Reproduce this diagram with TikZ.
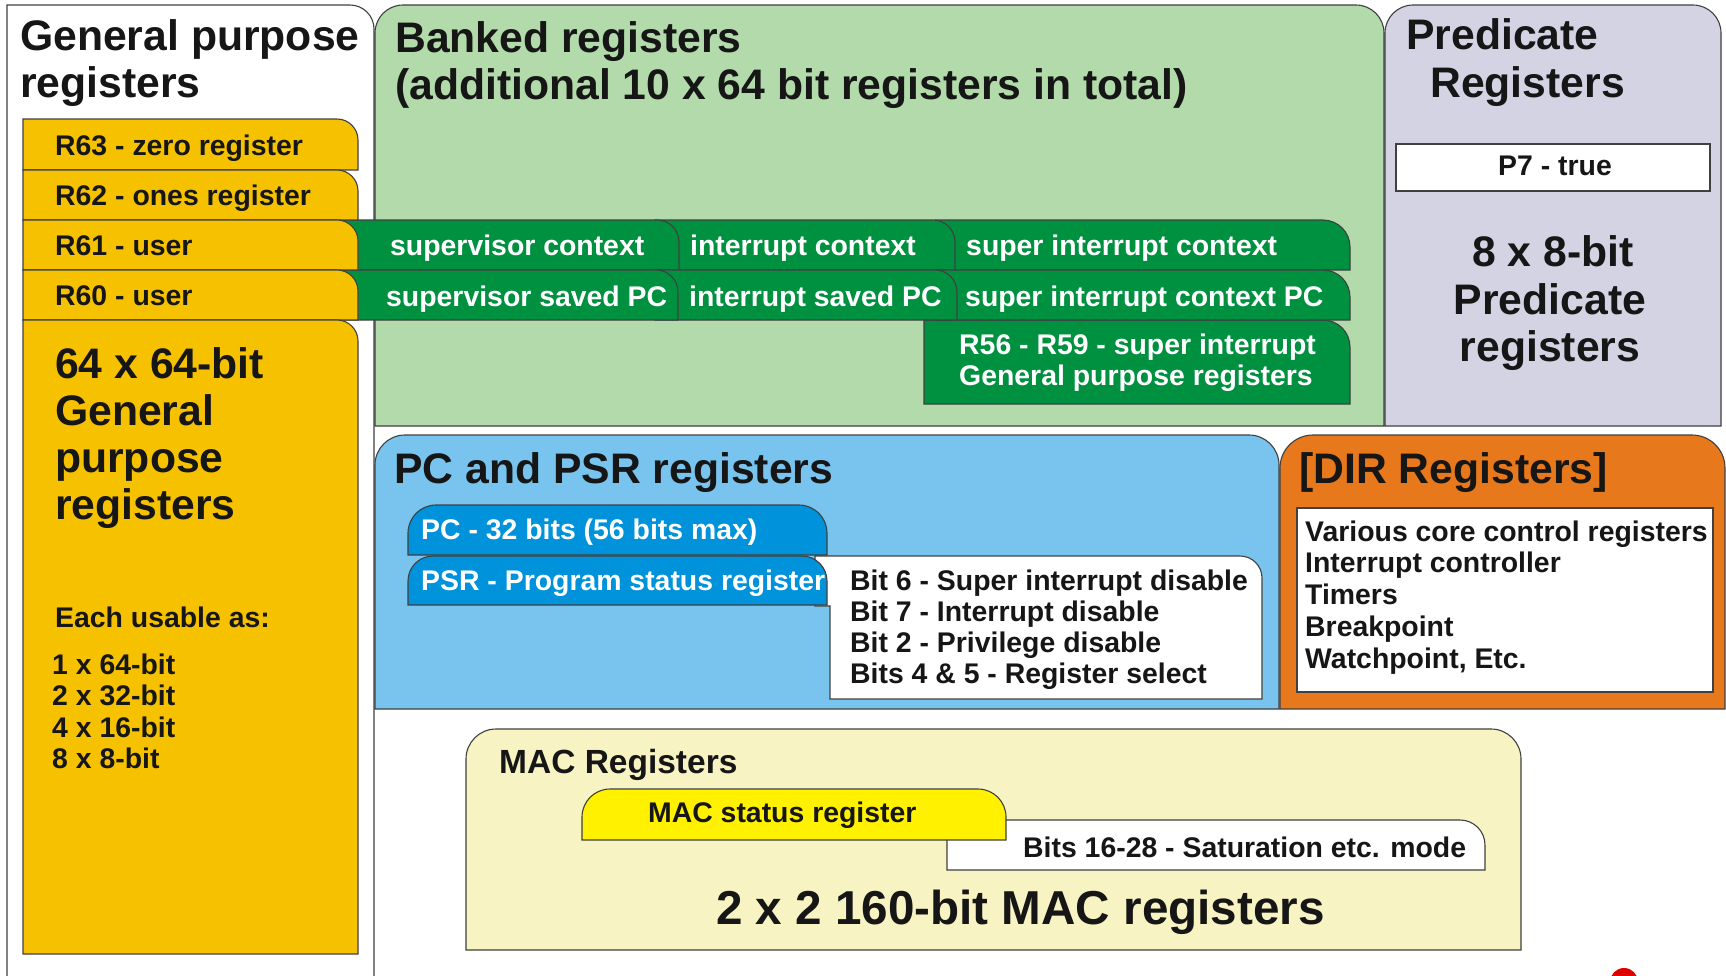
\documentclass[tikz,border=0pt]{standalone}
\usepackage{fontspec}
\setmainfont{Liberation Sans}

\definecolor{gpryellow}{RGB}{246,194,0}
\definecolor{bankgreen}{RGB}{178,218,170}
\definecolor{ctxgreen}{RGB}{0,145,64}
\definecolor{predgrey}{RGB}{211,211,228}
\definecolor{pcblue}{RGB}{120,196,238}
\definecolor{tabblue}{RGB}{0,146,218}
\definecolor{dirorange}{RGB}{231,120,27}
\definecolor{macpale}{RGB}{247,243,195}
\definecolor{macyellow}{RGB}{255,241,0}
\definecolor{edge}{RGB}{64,64,64}
\definecolor{ink}{RGB}{22,22,22}
\definecolor{dotred}{RGB}{225,0,0}

% box with its top-right corner rounded: style, x1, y1, x2, y2, radius
\newcommand\regtab[6]{%
  \path[#1] (#2,#5) -- (#2,#3) -- ({#4-#6},#3)
    .. controls ({#4-0.448*#6},#3) and (#4,{#3+0.448*#6}) .. (#4,{#3+#6})
    -- (#4,#5) -- cycle;}
% box with both top corners rounded: style, x1, y1, x2, y2, radius
\newcommand\regcap[6]{%
  \path[#1] (#2,#5) -- (#2,{#3+#6})
    .. controls (#2,{#3+0.448*#6}) and ({#2+0.448*#6},#3) .. ({#2+#6},#3)
    -- ({#4-#6},#3)
    .. controls ({#4-0.448*#6},#3) and (#4,{#3+0.448*#6}) .. (#4,{#3+#6})
    -- (#4,#5) -- cycle;}

\begin{document}
\begin{tikzpicture}[x=1pt,y=-1pt,
  box/.style={draw=edge,line width=1.1pt},
  txt/.style={inner sep=0pt,anchor=base west,text=ink,font=\bfseries\fontsize{28.4}{32}\selectfont},
  big/.style={txt,font=\bfseries\fontsize{42.7}{47}\selectfont},
  wtxt/.style={txt,text=white}]
\useasboundingbox (0,0) rectangle (1726,975);
\clip (0,0) rectangle (1726,975);
\fill[white] (0,0) rectangle (1726,975);

% ---- outer panels ----
\regtab{box,fill=white}{7}{5}{374}{1000}{24}
\regcap{box,fill=bankgreen}{375}{5}{1384}{426}{28}
\regcap{box,fill=predgrey}{1385}{5}{1721}{426}{28}
\regcap{box,fill=pcblue}{375}{435}{1279}{709}{30}
\regcap{box,fill=dirorange}{1280}{435}{1725}{709}{33}
\regcap{box,fill=macpale}{466}{729}{1521}{950}{30}

% ---- banked context tabs ----
\regtab{box,fill=ctxgreen}{924}{320}{1350}{404}{27}
\regtab{box,fill=ctxgreen}{935}{220}{1350}{270}{27}
\regtab{box,fill=ctxgreen}{655}{220}{955}{270}{22}
\regtab{box,fill=ctxgreen}{340}{220}{679}{270}{22}
\regtab{box,fill=ctxgreen}{935}{270}{1350}{320}{27}
\regtab{box,fill=ctxgreen}{655}{270}{957}{320}{22}
\regtab{box,fill=ctxgreen}{340}{270}{678}{320}{22}

% ---- general purpose register rows ----
\regtab{box,fill=gpryellow}{23}{119}{358}{170}{21}
\regtab{box,fill=gpryellow}{23}{170}{358}{220}{21}
\regtab{box,fill=gpryellow}{23}{220}{358}{270}{21}
\regtab{box,fill=gpryellow}{23}{270}{358}{320}{21}
\regtab{box,fill=gpryellow}{23}{320}{358}{954}{21}

% ---- predicate ----
\draw[box,fill=white] (1396,144) rectangle (1710,191);

% ---- PC and PSR ----
\regcap{box,fill=tabblue}{408}{505}{827}{555}{28}
\path[box,fill=white] (815,556) -- (1240,556)
  .. controls ({1262-0.448*22},556) and (1262,{556+0.448*22}) .. (1262,578)
  -- (1262,699) -- (830,699) -- (830,606) -- (815,606) -- cycle;
\regcap{box,fill=tabblue}{408}{556}{827}{605}{25}

% ---- DIR ----
\draw[box,fill=white] (1297,508) rectangle (1713,692);

% ---- MAC ----
\regtab{box,fill=white}{947}{820}{1485}{870}{25}
\regcap{box,fill=macyellow}{582}{789}{1006}{840}{28}

% ---- texts: general purpose ----
\node[big] (gprA) at (20,50) {General purpose};
\node[big] (gprB) at (20,97) {registers};
\node[txt] (r63) at (55,155) {R63 - zero register};
\node[txt] (r62) at (55,205) {R62 - ones register};
\node[txt] (r61) at (55,255) {R61 - user};
\node[txt] (r60) at (55,305) {R60 - user};
\foreach \t [count=\i] in {64 x 64-bit, General, purpose, registers}
  \node[big] (gpc\i) at (55,{378+47.3*(\i-1)}) {\t};
\node[txt] (usable) at (55,627) {Each usable as:};
\foreach \t [count=\i] in {1 x 64-bit, 2 x 32-bit, 4 x 16-bit, 8 x 8-bit}
  \node[txt] (use\i) at (52,{674+31.5*(\i-1)}) {\t};

% ---- texts: banked ----
\node[big] (bankA) at (395,52) {Banked registers};
\node[big] (bankB) at (395,99) {(additional 10 x 64 bit registers in total)};
\node[wtxt] (sup) at (390,255) {supervisor context};
\node[wtxt] (irq) at (690,255) {interrupt context};
\node[wtxt] (sirq) at (966,255) {super interrupt context};
\node[wtxt] (suppc) at (386,306) {supervisor saved PC};
\node[wtxt] (irqpc) at (689,306) {interrupt saved PC};
\node[wtxt] (sirqpc) at (965,306) {super interrupt context PC};
\node[wtxt] (rsA) at (959,354) {R56 - R59 - super interrupt};
\node[wtxt] (rsB) at (959,385) {General purpose registers};

% ---- texts: predicate ----
\node[big] (predA) at (1406,49) {Predicate};
\node[big] (predB) at (1430,97) {Registers};
\node[txt,anchor=base] (p7) at (1555,175) {P7 - true};
\node[big,anchor=base] (predC) at (1553,266) {8 x 8-bit};
\node[big,anchor=base] (predD) at (1550,314) {Predicate};
\node[big,anchor=base] (predE) at (1550,361) {registers};

% ---- texts: PC and PSR ----
\node[big] (pcpsr) at (394,483) {PC and PSR registers};
\node[wtxt] (pc) at (421,539) {PC - 32 bits (56 bits max)};
\node[wtxt] (psr) at (421,590) {PSR - Program status register};
\foreach \t [count=\i] in {Bit 6 - Super interrupt disable, Bit 7 - Interrupt disable,
    Bit 2 - Privilege disable, Bits 4 \& 5 - Register select}
  \node[txt] (bit\i) at (850,{590+31.3*(\i-1)}) {\t};

% ---- texts: DIR ----
\node[big] (dir) at (1299,483) {[DIR Registers]};
\foreach \t [count=\i] in {Various core control registers, Interrupt controller,
    Timers, Breakpoint, {Watchpoint, Etc.}}
  \node[txt] (dir\i) at (1305,{541+31.75*(\i-1)}) {\t};

% ---- texts: MAC ----
\node[txt,font=\bfseries\fontsize{33.5}{38}\selectfont] (mac) at (499,773) {MAC Registers};
\node[txt] (macsr) at (648,822) {MAC status register};
\node[txt] (macbits) at (1023,857) {Bits 16-28 - Saturation etc. mode};
\node[txt,font=\bfseries\fontsize{47.6}{52}\selectfont] (macbig) at (716,924) {2 x 2 160-bit MAC registers};

% red mark at the lower edge
\fill[dotred] (1624,982) circle[radius=14];
\end{tikzpicture}
\end{document}
